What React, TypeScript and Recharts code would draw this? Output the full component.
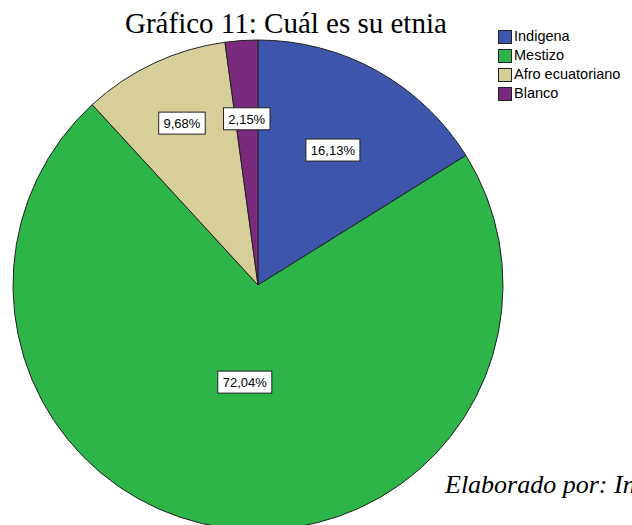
import React from 'react';
import { PieChart, Pie, Cell, Legend } from 'recharts';

const categories = ['Indigena', 'Mestizo', 'Afro ecuatoriano', 'Blanco'];
const percents = [16.13, 72.04, 9.68, 2.15];
const colors = ['#3d56ab', '#2db54a', '#d6cf99', '#7a2a7d'];

// how far from the centre each label box sits (fraction of radius)
const labelRadius = [0.63, 0.4, 0.73, 0.68];

const data = categories.map((name, i) => ({ name, value: percents[i] }));

const RAD = Math.PI / 180;
const SANS = 'Liberation Sans, Arial, sans-serif';
const SERIF = 'Liberation Serif, Times New Roman, serif';

const fmt = (v: number) => `${v.toFixed(2).replace('.', ',')}%`;

const renderLabel = (props: any) => {
  const { cx, cy, midAngle, outerRadius, index, value } = props;
  const r = outerRadius * labelRadius[index];
  const x = cx + r * Math.cos(-midAngle * RAD);
  const y = cy + r * Math.sin(-midAngle * RAD);
  const text = fmt(value);
  const w = text.length * 7.5 + 9;
  return (
    <g>
      <rect x={x - w / 2} y={y - 11} width={w} height={22} fill="#fff" stroke="#222" strokeWidth={1} />
      <text x={x} y={y + 5} textAnchor="middle" fontFamily={SANS} fontSize={13} fill="#000">
        {text}
      </text>
    </g>
  );
};

const LegendBox = () => (
  <div style={{ fontFamily: SANS, fontSize: 14.5, lineHeight: '19px' }}>
    {categories.map((c, i) => (
      <div key={c} style={{ display: 'flex', alignItems: 'center', height: 19 }}>
        <span style={{ display: 'inline-block', width: 12, height: 12, background: colors[i], border: '1px solid #222', marginRight: 2 }} />
        <span>{c}</span>
      </div>
    ))}
  </div>
);

export default function App() {
  return (
    <div style={{ position: 'absolute', left: 0, top: 0, width: 632, height: 525, overflow: 'hidden', background: '#fff' }}>
      <PieChart width={632} height={540} margin={{ top: 0, right: 0, bottom: 0, left: 0 }}>
        <Pie
          data={data}
          dataKey="value"
          cx={258}
          cy={285}
          outerRadius={245}
          startAngle={90}
          endAngle={-270}
          stroke="#222"
          strokeWidth={1}
          label={renderLabel}
          labelLine={false}
          isAnimationActive={false}
        >
          {data.map((d, i) => (
            <Cell key={d.name} fill={colors[i]} />
          ))}
        </Pie>
        <Legend content={<LegendBox />} layout="vertical" wrapperStyle={{ position: 'absolute', left: 498, top: 27, width: 134 }} />
      </PieChart>
      <svg width={632} height={525} style={{ position: 'absolute', left: 0, top: 0, pointerEvents: 'none' }}>
        <text x={125} y={33} fontFamily={SERIF} fontSize={29} fill="#000">
          Gráfico 11: Cuál es su etnia
        </text>
        <text x={445} y={493} fontFamily={SERIF} fontStyle="italic" fontSize={26} fill="#000">
          Elaborado por: Investigadora
        </text>
      </svg>
    </div>
  );
}
